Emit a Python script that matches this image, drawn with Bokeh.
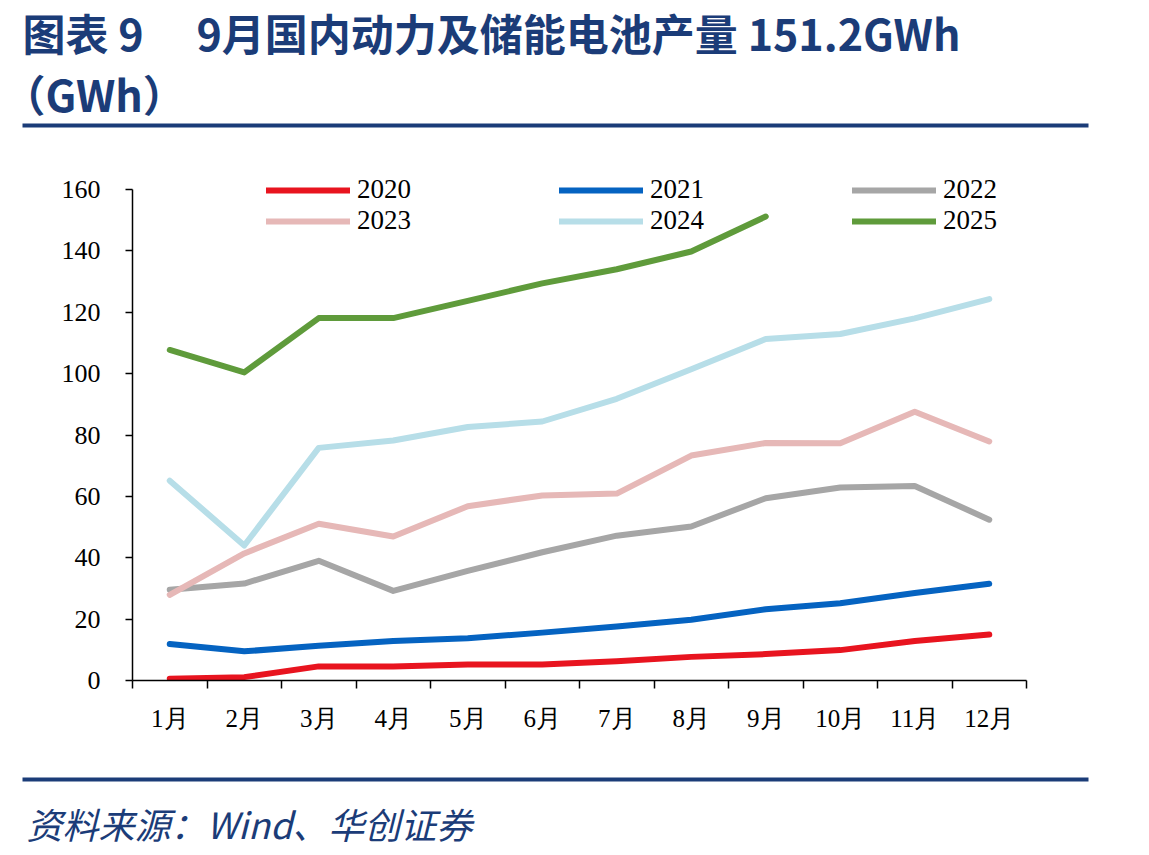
import numpy as np
from bokeh.plotting import figure
from bokeh.layouts import column, row
from bokeh.models import (Range1d, FixedTicker, LinearAxis, Legend, LegendItem,
                          Label, BoxAnnotation, CustomJSTickFormatter)
from bokeh.embed import file_html
from bokeh.resources import INLINE

# Monthly output of power + storage batteries in China (GWh)
months = ["1月", "2月", "3月", "4月", "5月", "6月",
          "7月", "8月", "9月", "10月", "11月", "12月"]
years = ["2020", "2021", "2022", "2023", "2024", "2025"]

v2020 = [0.6, 1.1, 4.6, 4.6, 5.2, 5.2, 6.3, 7.7, 8.6, 9.9, 12.9, 15.0]
v2021 = [11.9, 9.5, 11.3, 12.9, 13.8, 15.6, 17.6, 19.8, 23.2, 25.2, 28.5, 31.5]
v2022 = [29.6, 31.6, 39.0, 29.2, 35.7, 41.8, 47.2, 50.2, 59.4, 62.9, 63.4, 52.4]
v2023 = [27.9, 41.4, 51.1, 46.9, 56.8, 60.3, 60.9, 73.3, 77.4, 77.3, 87.6, 77.9]
v2024 = [65.1, 44.0, 75.8, 78.2, 82.6, 84.4, 91.8, 101.4, 111.3, 112.9, 118.0, 124.3]
v2025 = [107.7, 100.4, 118.1, 118.1, 123.7, 129.4, 134.0, 139.8, 151.2]

series = [v2020, v2021, v2022, v2023, v2024, v2025]
colors = ["#E8141F", "#0563C1", "#A6A6A6", "#E6B8B7", "#B7DEE8", "#5F9B3B"]
navy = "#1B3C78"

y_ticks = [0, 20, 40, 60, 80, 100, 120, 140, 160]

W = 1149
HEAD_H, CHART_H, FOOT_H = 135, 635, 85


def blank(height):
    """A plain canvas whose data units are pixels, y growing downwards."""
    f = figure(width=W, height=height, output_backend="svg", toolbar_location=None,
               x_range=Range1d(0, W), y_range=Range1d(height, 0),
               x_axis_type=None, y_axis_type=None, min_border=0)
    f.outline_line_color = None
    f.background_fill_color = "white"
    f.border_fill_color = "white"
    return f


# ---- heading -------------------------------------------------------------
head = blank(HEAD_H)
title_kw = dict(text_font="Noto Sans CJK SC", text_font_style="bold",
                text_font_size="43px", text_color=navy, text_baseline="middle")
head.add_layout(Label(x=22, y=31, text="图表  9", **title_kw))
head.add_layout(Label(x=196, y=31, text="9月国内动力及储能电池产量 151.2GWh", **title_kw))
head.add_layout(Label(x=2, y=92, text="（GWh）", **title_kw))
head.add_layout(BoxAnnotation(left=22, right=1088, top=123, bottom=127,
                              fill_color=navy, fill_alpha=1, line_color=None))

# ---- chart ---------------------------------------------------------------
FL, FR = 132, 1026          # frame left / right
FT, FB = 30, 545            # frame top / bottom inside the chart canvas
PX_PER_UNIT = (545 - 54) / y_ticks[-1]
y_top = y_ticks[-1] + 24 / PX_PER_UNIT   # headroom for the legend

p = figure(width=W, height=CHART_H, output_backend="svg", toolbar_location=None,
           x_range=Range1d(0, len(months)), y_range=Range1d(0, y_top),
           x_axis_type=None, y_axis_type=None,
           min_border_left=FL, min_border_right=W - FR,
           min_border_top=FT, min_border_bottom=CHART_H - FB)
p.outline_line_color = None
p.background_fill_color = "white"
p.border_fill_color = "white"

yax = LinearAxis(ticker=FixedTicker(ticks=y_ticks, minor_ticks=[]),
                 bounds=(y_ticks[0], y_ticks[-1]))
yax.axis_line_color = "black"
yax.axis_line_width = 1.5
yax.major_tick_line_color = "black"
yax.major_tick_line_width = 1.5
yax.major_tick_out = 7
yax.major_tick_in = 0
yax.minor_tick_out = 0
yax.minor_tick_in = 0
yax.major_label_standoff = 25
yax.major_label_text_font = "Liberation Serif"
yax.major_label_text_font_size = "26px"
yax.major_label_text_color = "black"
p.add_layout(yax, "left")

# labels at month centres, tick marks at month boundaries
centers = [i + 0.5 for i in range(len(months))]
bounds = list(range(len(months) + 1))
xax = LinearAxis(ticker=FixedTicker(ticks=centers, minor_ticks=bounds),
                 formatter=CustomJSTickFormatter(args=dict(months=months),
                                                 code="return months[Math.floor(tick)];"))
xax.axis_line_color = "black"
xax.axis_line_width = 1.5
xax.major_tick_out = 0
xax.major_tick_in = 0
xax.minor_tick_line_color = "black"
xax.minor_tick_line_width = 1.5
xax.minor_tick_out = 8
xax.minor_tick_in = 0
xax.major_label_standoff = 16
xax.major_label_text_font = "Liberation Serif"
xax.major_label_text_font_size = "25px"
xax.major_label_text_color = "black"
p.add_layout(xax, "below")

items = []
for yr, vals, col in zip(years, series, colors):
    xs = np.arange(len(vals)) + 0.5
    r = p.line(xs, vals, line_color=col, line_width=6,
               line_cap="round", line_join="round")
    items.append(LegendItem(label=yr, renderers=[r]))

legend = Legend(items=items, orientation="horizontal", ncols=3,
                location=(134, 444),
                glyph_width=84, glyph_height=28, label_height=28, label_width=202,
                label_standoff=7, spacing=0, padding=0, margin=0,
                border_line_color=None, background_fill_alpha=0,
                label_text_font="Liberation Serif", label_text_font_size="27px",
                label_text_color="black")
p.add_layout(legend)

# ---- footer --------------------------------------------------------------
foot = blank(FOOT_H)
foot.add_layout(BoxAnnotation(left=22, right=1088, top=7, bottom=11,
                              fill_color=navy, fill_alpha=1, line_color=None))
foot.add_layout(Label(x=26, y=52, text="资料来源：Wind、华创证券",
                      text_font="Noto Sans CJK SC", text_font_style="italic",
                      text_font_size="36px", text_color=navy, text_baseline="middle"))

page = column(row(head), p, row(foot), spacing=0)
open("out.html", "w").write(file_html(page, INLINE))
